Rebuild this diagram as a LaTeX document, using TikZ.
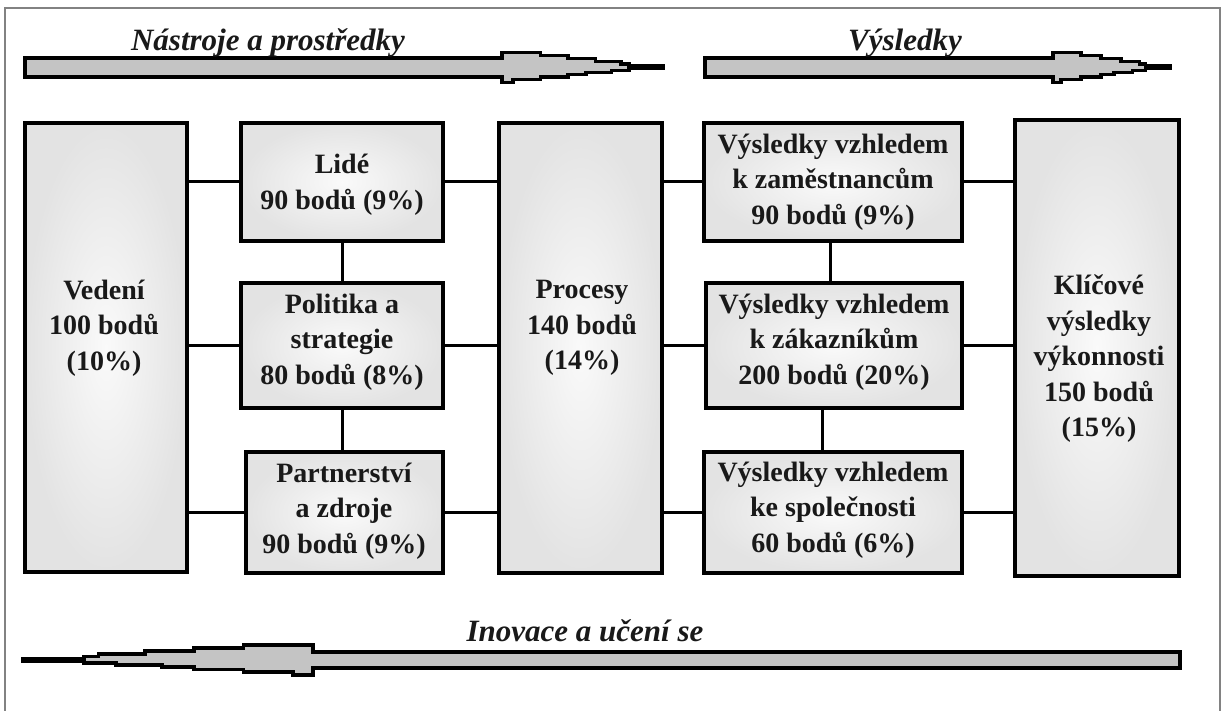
\documentclass[tikz,border=0pt]{standalone}
\usepackage{fontspec}
\setmainfont{Liberation Serif}
\definecolor{arrowgray}{RGB}{196,196,196}
\definecolor{framegray}{RGB}{130,130,130}
\newcommand\steparrow[5]{% #1 tail (fraction), #2 head start x, #3 signed head length, #4 centre y, #5 shaft half height
  \begin{scope}[shift={(#2,#4)}, xscale=#3]
    \filldraw[arrowbody]
      (#1,-#5) -- (0,-#5) -- (0,-15) -- (0.24,-15) -- (0.24,-12) -- (0.41,-12) -- (0.41,-9)
      -- (0.58,-9) -- (0.58,-6) -- (0.74,-6) -- (0.74,-3.5) -- (0.79,-3.5) -- (0.79,-1.2) -- (1,-1.2)
      -- (1,1.2) -- (0.79,1.2) -- (0.79,3) -- (0.68,3) -- (0.68,5) -- (0.52,5) -- (0.52,7)
      -- (0.41,7) -- (0.41,9.5) -- (0.24,9.5) -- (0.24,12) -- (0.07,12) -- (0.07,15) -- (0,15)
      -- (0,#5) -- (#1,#5) -- cycle;
  \end{scope}}
\begin{document}
\begin{tikzpicture}[x=1pt,y=-1pt,
  box/.style={draw=black, line width=3.2pt, inner color=black!2, outer color=black!11, inner sep=0pt},
  txt/.style={font=\bfseries\fontsize{28}{35.5}\selectfont, align=center, inner sep=0pt, text=black!90},
  lbl/.style={font=\bfseries\itshape\fontsize{31}{36}\selectfont, inner sep=0pt, text=black!90},
  conn/.style={draw=black, line width=3pt},
  arrowbody/.style={fill=arrowgray, draw=black, line width=3.6pt, line join=miter}]
\useasboundingbox (0,0) rectangle (1223,711);
\fill[white] (0,0) rectangle (1223,711);
\draw[framegray, line width=2pt] (5,711) -- (5,8) -- (1220,8) -- (1220,711);

% arrows
\steparrow{-2.963}{502}{161}{67.5}{9.5}
\steparrow{-2.974}{1053}{117}{67.5}{9.5}
\steparrow{-2.990}{313}{-290}{660}{8}

\node[lbl, anchor=base] (ltools) at (268,51) {Nástroje a prostředky};
\node[lbl, anchor=base] (lres) at (905,51) {Výsledky};
\node[lbl, anchor=base] (linov) at (585,641) {Inovace a učení se};

% boxes
\node[box, minimum width=162pt, minimum height=449pt] (ved) at (106,347.5) {};
\node[box, minimum width=202pt, minimum height=118pt] (lide) at (342,182) {};
\node[box, minimum width=202pt, minimum height=125pt] (pol) at (342,345.5) {};
\node[box, minimum width=197pt, minimum height=121pt] (part) at (344.5,512.5) {};
\node[box, minimum width=163pt, minimum height=450pt] (proc) at (580.5,348) {};
\node[box, minimum width=258pt, minimum height=118pt] (vtop) at (833,182) {};
\node[box, minimum width=256pt, minimum height=125pt] (vmid) at (834,345.5) {};
\node[box, minimum width=258pt, minimum height=121pt] (vbot) at (833,512.5) {};
\node[box, minimum width=164pt, minimum height=456pt] (klic) at (1097,348) {};

% texts
\node[txt] (tved) at (104,328) {Vedení\\100 bodů\\(10\%)};
\node[txt] (tlide) at (342,185) {Lidé\\90 bodů (9\%)};
\node[txt] (tpol) at (342,342) {Politika a\\strategie\\80 bodů (8\%)};
\node[txt] (tpart) at (344,511) {Partnerství\\a zdroje\\90 bodů (9\%)};
\node[txt] (tproc) at (582,328) {Procesy\\140 bodů\\(14\%)};
\node[txt] (tvtop) at (833,182) {Výsledky vzhledem\\k zaměstnancům\\90 bodů (9\%)};
\node[txt] (tvmid) at (834,342) {Výsledky vzhledem\\k zákazníkům\\200 bodů (20\%)};
\node[txt] (tvbot) at (833,510) {Výsledky vzhledem\\ke společnosti\\60 bodů (6\%)};
\node[txt] (tklic) at (1099,359) {Klíčové\\výsledky\\výkonnosti\\150 bodů\\(15\%)};

% connectors
\draw[conn] (ved.east |- lide.west) -- (lide.west);
\draw[conn] (ved.east |- pol.west) -- (pol.west);
\draw[conn] (ved.east |- part.west) -- (part.west);
\draw[conn] (lide.east) -- (proc.west |- lide.east);
\draw[conn] (pol.east) -- (proc.west |- pol.east);
\draw[conn] (part.east) -- (proc.west |- part.east);
\draw[conn] (lide.south) -- (pol.north);
\draw[conn] (pol.south) -- (pol.south |- part.north);
\draw[conn] (proc.east |- vtop.west) -- (vtop.west);
\draw[conn] (proc.east |- vmid.west) -- (vmid.west);
\draw[conn] (proc.east |- vbot.west) -- (vbot.west);
\draw[conn] (vtop.east) -- (klic.west |- vtop.east);
\draw[conn] (vmid.east) -- (klic.west |- vmid.east);
\draw[conn] (vbot.east) -- (klic.west |- vbot.east);
\draw[conn] ([xshift=-3pt]vtop.south) -- ([xshift=-3pt]vtop.south |- vmid.north);
\draw[conn] ([xshift=-12pt]vmid.south) -- ([xshift=-12pt]vmid.south |- vbot.north);
\end{tikzpicture}
\end{document}
